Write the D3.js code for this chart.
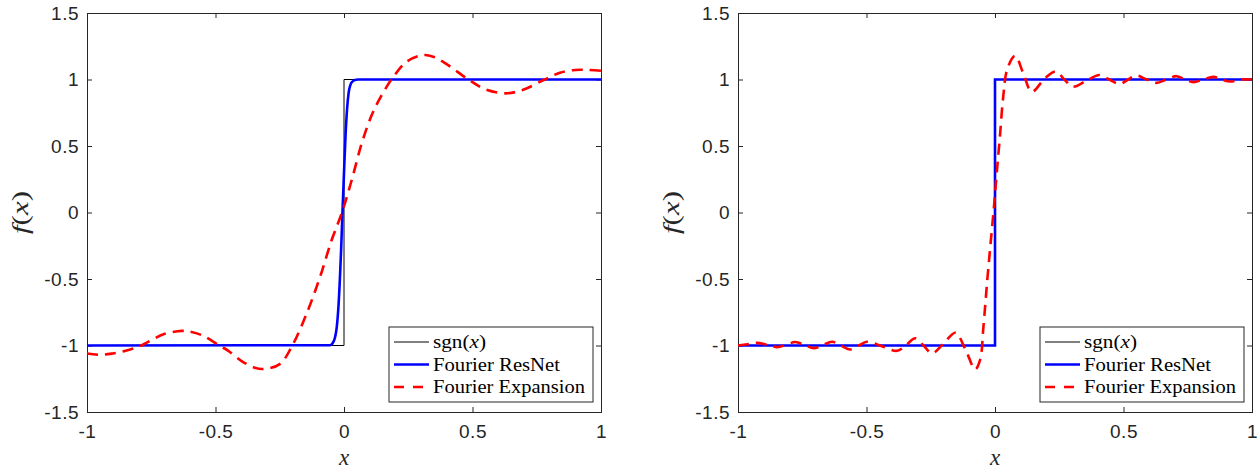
<!DOCTYPE html>
<html>
<head>
<meta charset="utf-8">
<script src="https://cdn.jsdelivr.net/npm/d3@7"></script>
<style>
  html, body { margin: 0; padding: 0; background: #fff; }
  svg { display: block; }
</style>
</head>
<body>
<svg id="chart" width="1260" height="470"></svg>
<script>
// Axis ticks
const xTicks = [-1, -0.5, 0, 0.5, 1];
const xTickLabels = ["-1", "-0.5", "0", "0.5", "1"];
const yTicks = [-1.5, -1, -0.5, 0, 0.5, 1, 1.5];
const yTickLabels = ["-1.5", "-1", "-0.5", "0", "0.5", "1", "1.5"];

// Target: sign function
const signX = [-1, 0, 0, 1];
const signY = [-1, -1, 1, 1];

// Left panel: Fourier ResNet
const resnetLeftX = [-1, -0.055, -0.045, -0.035, -0.028, -0.022, -0.016, -0.011, -0.006, 0, 0.006, 0.012, 0.018, 0.025, 0.033, 0.042, 0.055, 1];
const resnetLeftY = [-1, -0.998, -0.985, -0.94, -0.86, -0.72, -0.5, -0.27, 0, 0.3, 0.58, 0.78, 0.9, 0.96, 0.985, 0.996, 1, 1];

// Left panel: Fourier expansion
const fourierLeftX = [-1, -0.947, -0.9, -0.85, -0.789, -0.75, -0.7, -0.631, -0.6, -0.55, -0.485, -0.45, -0.4, -0.35, -0.314, -0.25, -0.2035, -0.145, -0.093, -0.048, -0.009, 0.03, 0.069, 0.108, 0.147, 0.192, 0.244, 0.309, 0.35, 0.398, 0.484, 0.55, 0.629, 0.7, 0.781, 0.84, 0.9, 0.95, 1];
const fourierLeftY = [-1.06, -1.07, -1.06, -1.04, -1.0, -0.96, -0.914, -0.89, -0.895, -0.925, -1.0, -1.04, -1.115, -1.165, -1.177, -1.14, -1.009, -0.758, -0.483, -0.207, -0.006, 0.244, 0.52, 0.733, 0.883, 1.02, 1.134, 1.184, 1.169, 1.117, 1.0, 0.926, 0.896, 0.925, 1.0, 1.05, 1.072, 1.072, 1.066];

// Right panel: Fourier ResNet
const resnetRightX = [-1, 0, 0, 1];
const resnetRightY = [-1, -1, 1, 1];

// Right panel: Fourier expansion
const fourierRightX = [-1, -0.963, -0.926, -0.887, -0.848, -0.812, -0.777, -0.741, -0.705, -0.67, -0.634, -0.6, -0.563, -0.53, -0.498, -0.44, -0.381, -0.345, -0.31, -0.278, -0.245, -0.2, -0.154, -0.115, -0.077, -0.058, -0.045, -0.03, -0.016, -0.004, 0.0065, 0.019, 0.032, 0.048, 0.078, 0.11, 0.143, 0.195, 0.237, 0.27, 0.302, 0.355, 0.406, 0.445, 0.485, 0.518, 0.55, 0.59, 0.628, 0.667, 0.706, 0.74, 0.772, 0.81, 0.85, 0.882, 0.915, 0.957, 1];
const fourierRightY = [-1.0, -0.99, -0.98, -0.995, -1.012, -0.995, -0.974, -0.997, -1.02, -0.997, -0.972, -1.0, -1.03, -1.0, -0.972, -1.005, -1.04, -0.995, -0.946, -1.0, -1.059, -0.985, -0.904, -1.03, -1.179, -1.109, -0.858, -0.507, -0.207, 0.044, 0.29, 0.57, 0.87, 1.08, 1.177, 1.047, 0.908, 1.01, 1.06, 1.0, 0.946, 0.99, 1.034, 1.0, 0.966, 1.0, 1.03, 1.0, 0.975, 1.0, 1.025, 1.0, 0.98, 1.0, 1.02, 1.0, 0.985, 1.0, 1.0];

const legendLabels = ["sgn", "Fourier ResNet", "Fourier Expansion"];

const svg = d3.select("#chart");
const axisColor = "#262626";
const plotTop = 13, plotBottom = 412;

const zip = (xs, ys) => xs.map((x, i) => [x, ys[i]]);

const panels = [
  { x0: 87, x1: 601, resnet: zip(resnetLeftX, resnetLeftY), fourier: zip(fourierLeftX, fourierLeftY) },
  { x0: 738, x1: 1252, resnet: zip(resnetRightX, resnetRightY), fourier: zip(fourierRightX, fourierRightY) }
];

panels.forEach(p => {
  const x = d3.scaleLinear().domain([-1, 1]).range([p.x0, p.x1]);
  const y = d3.scaleLinear().domain([-1.5, 1.5]).range([plotBottom, plotTop]);
  const g = svg.append("g");

  // Axes: ticks point inward, labels on bottom and left only
  const styleAxis = sel => {
    sel.select(".domain").attr("stroke", axisColor).attr("stroke-width", 1);
    sel.selectAll(".tick line").attr("stroke", axisColor).attr("stroke-width", 1);
    sel.selectAll(".tick text")
      .attr("fill", axisColor)
      .attr("font-family", "'Liberation Sans', Arial, sans-serif")
      .attr("font-size", 19)
      .attr("letter-spacing", 0.5);
  };

  g.append("g").attr("transform", `translate(0,${plotBottom})`)
    .call(d3.axisBottom(x).tickValues(xTicks).tickSizeInner(-5).tickSizeOuter(0).tickPadding(13)
      .tickFormat((d, i) => xTickLabels[i]))
    .call(styleAxis);
  g.append("g").attr("transform", `translate(0,${plotTop})`)
    .call(d3.axisTop(x).tickValues(xTicks).tickSizeInner(-5).tickSizeOuter(0).tickFormat(""))
    .call(styleAxis);
  g.append("g").attr("transform", `translate(${p.x0},0)`)
    .call(d3.axisLeft(y).tickValues(yTicks).tickSizeInner(-5).tickSizeOuter(0).tickPadding(8)
      .tickFormat((d, i) => yTickLabels[i]))
    .call(styleAxis);
  g.append("g").attr("transform", `translate(${p.x1},0)`)
    .call(d3.axisRight(y).tickValues(yTicks).tickSizeInner(-5).tickSizeOuter(0).tickFormat(""))
    .call(styleAxis);
  g.selectAll(".domain").attr("stroke-linecap", "square");

  const lineLinear = d3.line().x(d => x(d[0])).y(d => y(d[1]));
  const lineMono = d3.line().x(d => x(d[0])).y(d => y(d[1])).curve(d3.curveMonotoneX);
  const lineSmooth = d3.line().x(d => x(d[0])).y(d => y(d[1])).curve(d3.curveCatmullRom.alpha(0.5));

  g.append("path").datum(zip(signX, signY))
    .attr("d", lineLinear).attr("fill", "none").attr("stroke", "#000").attr("stroke-width", 1);
  g.append("path").datum(p.resnet)
    .attr("d", p.resnet.length > 4 ? lineMono : lineLinear)
    .attr("fill", "none").attr("stroke", "#0000ff").attr("stroke-width", 2.6);
  g.append("path").datum(p.fourier)
    .attr("d", lineSmooth).attr("fill", "none").attr("stroke", "#ff0000")
    .attr("stroke-width", 2.6).attr("stroke-dasharray", "11,7");

  // Axis titles
  g.append("text")
    .attr("x", (p.x0 + p.x1) / 2).attr("y", 465)
    .attr("text-anchor", "middle")
    .attr("font-family", "'Liberation Serif', 'Times New Roman', serif")
    .attr("font-style", "italic").attr("font-size", 23).attr("fill", axisColor)
    .text("x");

  const yl = g.append("text")
    .attr("transform", `translate(${p.x0 - 59},${(plotTop + plotBottom) / 2}) rotate(-90)`)
    .attr("text-anchor", "middle")
    .attr("font-family", "'Liberation Serif', 'Times New Roman', serif")
    .attr("font-size", 24).attr("fill", axisColor)
    .attr("textLength", 43).attr("lengthAdjust", "spacingAndGlyphs");
  yl.append("tspan").attr("font-style", "italic").text("f");
  yl.append("tspan").text("(");
  yl.append("tspan").attr("font-style", "italic").text("x");
  yl.append("tspan").text(")");

  // Legend
  const lx0 = p.x1 - 212, lx1 = p.x1 - 8, ly0 = 327, ly1 = 402;
  const lg = g.append("g");
  lg.append("rect")
    .attr("x", lx0).attr("y", ly0).attr("width", lx1 - lx0).attr("height", ly1 - ly0)
    .attr("fill", "#fff").attr("stroke", axisColor).attr("stroke-width", 1);

  const rows = [
    { stroke: "#000", width: 1, dash: null, len: 53 },
    { stroke: "#0000ff", width: 2.6, dash: null, len: 127 },
    { stroke: "#ff0000", width: 2.6, dash: "10,9", len: 152 }
  ];
  rows.forEach((r, i) => {
    const ry = 342 + i * 22.5;
    lg.append("line")
      .attr("x1", lx0 + 5).attr("x2", lx0 + 40).attr("y1", ry).attr("y2", ry)
      .attr("stroke", r.stroke).attr("stroke-width", r.width)
      .attr("stroke-dasharray", r.dash);
    const t = lg.append("text")
      .attr("x", lx0 + 44).attr("y", ry + 6)
      .attr("font-family", "'Liberation Serif', 'Times New Roman', serif")
      .attr("font-size", 18).attr("fill", "#000")
      .attr("textLength", r.len).attr("lengthAdjust", "spacingAndGlyphs");
    if (i === 0) {
      t.append("tspan").text(legendLabels[0] + "(");
      t.append("tspan").attr("font-style", "italic").text("x");
      t.append("tspan").text(")");
    } else {
      t.text(legendLabels[i]);
    }
  });
});
</script>
</body>
</html>
